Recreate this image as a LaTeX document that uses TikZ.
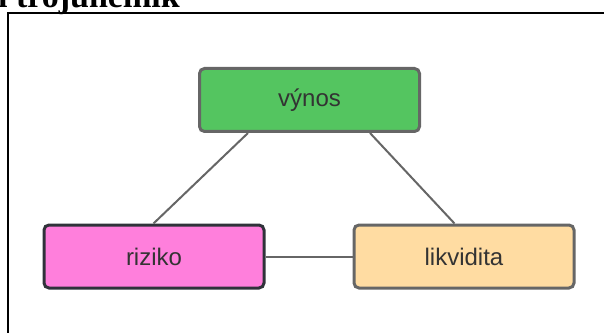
\documentclass[tikz,border=0pt]{standalone}
\usepackage{fontspec}
\setsansfont{Liberation Sans}
\newfontfamily\titlefont{Liberation Serif}
\usetikzlibrary{positioning}
\definecolor{vynosgreen}{HTML}{54C560}
\definecolor{rizikopink}{HTML}{FF7FDC}
\definecolor{likvpeach}{HTML}{FFDCA2}
\definecolor{edgegray}{HTML}{666666}
\definecolor{edgedark}{HTML}{30323A}
\definecolor{textgray}{HTML}{333333}

\tikzset{
    box/.style={draw=edgegray, line width=3pt, rounded corners=5pt, rectangle,
        minimum width=220pt, minimum height=63pt, inner sep=0pt,
        text=textgray, font=\sffamily\fontsize{24}{28}\selectfont},
    link/.style={draw=edgegray, line width=2pt}
}

\begin{document}
\begin{tikzpicture}[x=1pt, y=1pt]
    \useasboundingbox (0,0) rectangle (604,332);
    % title and frame
    \node (title) [anchor=base east, inner sep=0pt] at (180,324)
        {\titlefont\bfseries\fontsize{34}{40}\selectfont Investiční trojúhelník};
    \draw[line width=1.5pt] (8,-5) -- (8,319) -- (610,319);

    \node (vynos) [box, fill=vynosgreen] at (309.5,232) {výnos};
    \node (riziko) [box, fill=rizikopink, draw=edgedark] at (154,75.5) {riziko};
    \node (likvidita) [box, fill=likvpeach, right=87pt of riziko] {likvidita};

    \draw[link] ([xshift=50pt]vynos.south west) -- ([xshift=111pt]riziko.north west);
    \draw[link] ([xshift=172pt]vynos.south west) -- ([xshift=102pt]likvidita.north west);
    \draw[link] (riziko) -- (likvidita);
\end{tikzpicture}
\end{document}
